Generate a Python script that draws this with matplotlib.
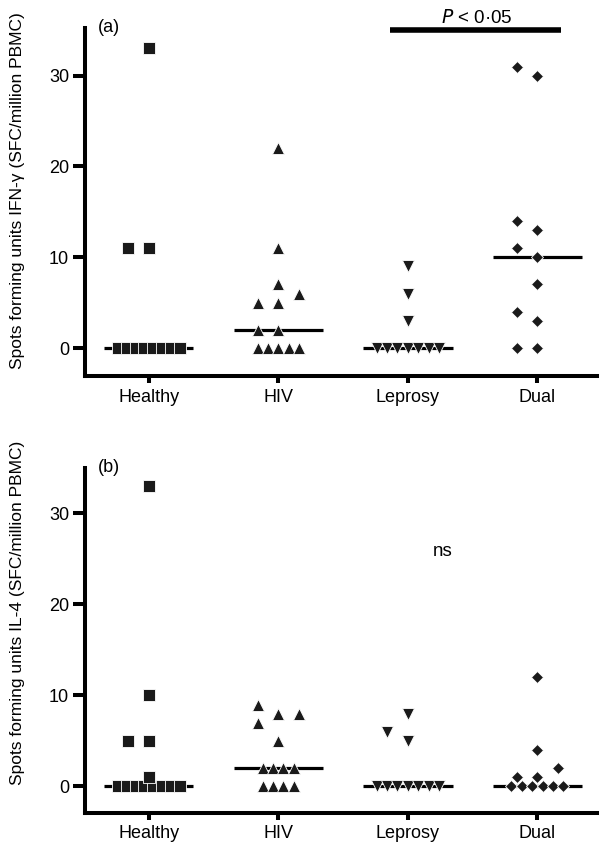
import numpy as np
import matplotlib
matplotlib.use("Agg")
import matplotlib.pyplot as plt
from collections import Counter

plt.rcParams["font.family"] = ["Liberation Sans", "DejaVu Sans"]

groups = ["Healthy", "HIV", "Leprosy", "Dual"]
markers = ["s", "^", "v", "D"]

# Panel (a) IFN-gamma
healthy_a = [0, 0, 0, 0, 0, 0, 0, 0, 11, 11, 33]
hiv_a = [0, 0, 0, 0, 0, 2, 2, 5, 5, 6, 7, 11, 22]
leprosy_a = [0, 0, 0, 0, 0, 0, 0, 3, 6, 9]
dual_a = [0, 0, 3, 4, 7, 10, 11, 13, 14, 30, 31]

# Panel (b) IL-4
healthy_b = [0, 0, 0, 0, 0, 0, 0, 0, 1, 5, 5, 10, 33]
hiv_b = [0, 0, 0, 0, 2, 2, 2, 2, 8, 7, 8, 9, 5]
leprosy_b = [0, 0, 0, 0, 0, 0, 0, 5, 6, 8]
dual_b = [0, 0, 0, 0, 0, 0, 1, 1, 2, 4, 12]

yticks = [0, 10, 20, 30]


def spread(values, step, w=0.16, thr=1.6):
    # ties of 3+ go in a tight row, the rest are pushed into side slots
    offs = [None] * len(values)
    counts = Counter(values)
    for v, n in counts.items():
        if n >= 3:
            idx = [i for i, x in enumerate(values) if x == v]
            for k, i in enumerate(idx):
                offs[i] = (k - (n - 1) / 2) * step
    placed = []
    for i, v in enumerate(values):
        if offs[i] is not None:
            continue
        for s in [0, -1, 1, -2, 2, -3, 3]:
            if all(not (ps == s and abs(pv - v) < thr) for ps, pv in placed):
                break
        placed.append((s, v))
        offs[i] = s * w
    return np.array(offs)


def draw_panel(ax, data, ylab, ylim):
    for i, (vals, m) in enumerate(zip(data, markers)):
        vals = np.array(vals, dtype=float)
        if m == "s":
            ms, step = 9.2, 0.068
        elif m == "D":
            ms, step = 6.0, 0.08
        else:
            ms, step = 8.2, 0.08
        x = i + spread(list(vals), step)
        med = np.median(vals)
        ax.plot([i - 0.345, i + 0.345], [med, med], color="black", lw=2.3,
                solid_capstyle="butt", zorder=2)
        ax.plot(x, vals, linestyle="none", marker=m, markersize=ms,
                markerfacecolor="#1a1a1a", markeredgecolor="white",
                markeredgewidth=0.6, zorder=3, clip_on=False)
    ax.set_xlim(-0.492, 3.46)
    ax.set_ylim(*ylim)
    ax.set_xticks(range(len(groups)))
    ax.set_xticklabels(groups, fontsize=13)
    ax.set_yticks(yticks)
    ax.set_yticklabels([str(t) for t in yticks], fontsize=13)
    ax.spines["top"].set_visible(False)
    ax.spines["right"].set_visible(False)
    ax.spines["left"].set_linewidth(2.9)
    ax.spines["bottom"].set_linewidth(2.9)
    ax.tick_params(axis="y", length=8.5, width=2.9, pad=3)
    ax.tick_params(axis="x", length=5, width=2.9, pad=4)
    ax.set_ylabel(ylab, fontsize=12.5)


fig = plt.figure(figsize=(6.05, 8.52), dpi=100)
W, H = 605, 852

# panel (a)
ax1 = fig.add_axes([85 / W, (H - 376) / H, (597 - 85) / W, (376 - 28) / H])
draw_panel(ax1, [healthy_a, hiv_a, leprosy_a, dual_a],
           "Spots forming units IFN-γ (SFC/million PBMC)", (-3.08, 35.25))
ax1.yaxis.set_label_coords(-0.117, 0.534)
ax1.text(0.025, 1.0, "(a)", transform=ax1.transAxes, fontsize=13,
         ha="left", va="center")
ax1.plot([1.86, 3.18], [35.0, 35.0], color="black", lw=4, clip_on=False,
         solid_capstyle="butt")
ax1.text(2.53, 36.4, "$P$ < 0·05", fontsize=13.5, ha="center", va="center")

# panel (b)
ax2 = fig.add_axes([85 / W, (H - 813) / H, (597 - 85) / W, (813 - 468) / H])
draw_panel(ax2, [healthy_b, hiv_b, leprosy_b, dual_b],
           "Spots forming units IL-4 (SFC/million PBMC)", (-2.92, 35.0))
ax2.yaxis.set_label_coords(-0.117, 0.58)
ax2.text(0.025, 1.0, "(b)", transform=ax2.transAxes, fontsize=13,
         ha="left", va="center")
ax2.text(2.27, 25.8, "ns", fontsize=13.5, ha="center", va="center")

fig.savefig("out.png", dpi=100)
